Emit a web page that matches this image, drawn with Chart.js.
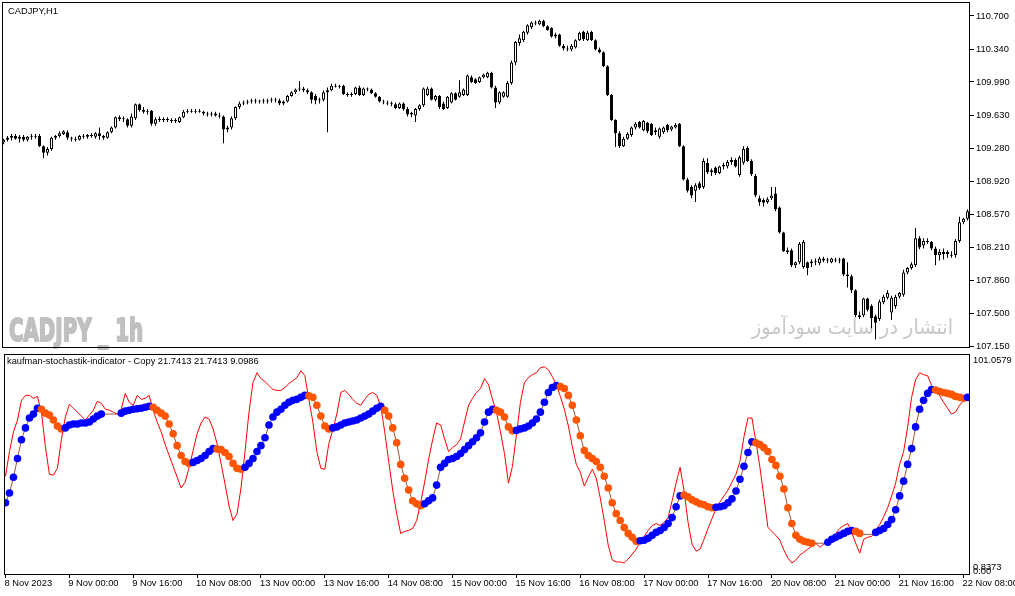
<!DOCTYPE html>
<html><head><meta charset="utf-8">
<script src="https://cdn.jsdelivr.net/npm/chart.js@4.4.1/dist/chart.umd.min.js"></script>
<style>
html,body{margin:0;padding:0;background:#fff;width:1015px;height:596px;overflow:hidden}
canvas{position:absolute;left:0}
#c1{top:0;width:1015px;height:350px}
#c2{top:350px;width:1015px;height:246px}
</style></head><body>
<canvas id="c1" width="1015" height="350"></canvas>
<canvas id="c2" width="1015" height="246"></canvas>
<script>
// ---- CADJPY H1 candles (8 Nov 2023 08:00 .. 22 Nov 2023 09:00) ----
const opens = [109.34,109.37,109.39,109.41,109.38,109.40,109.37,109.40,109.41,109.41,
109.30,109.23,109.27,109.39,109.41,109.43,109.45,109.39,109.38,109.37,
109.41,109.40,109.42,109.40,109.44,109.41,109.39,109.45,109.50,109.61,
109.59,109.59,109.52,109.60,109.75,109.69,109.67,109.68,109.54,109.59,
109.58,109.59,109.58,109.57,109.56,109.61,109.67,109.68,109.67,109.68,
109.67,109.65,109.64,109.65,109.63,109.62,109.48,109.50,109.60,109.72,
109.76,109.77,109.78,109.79,109.78,109.79,109.78,109.79,109.80,109.79,
109.76,109.78,109.84,109.88,109.91,109.92,109.90,109.88,109.84,109.79,
109.80,109.88,109.90,109.95,109.94,109.95,109.86,109.85,109.86,109.93,
109.85,109.92,109.91,109.87,109.83,109.78,109.77,109.76,109.75,109.71,
109.76,109.70,109.64,109.63,109.70,109.74,109.85,109.92,109.80,109.84,
109.76,109.71,109.77,109.87,109.83,109.85,109.85,110.04,110.02,109.99,
110.04,110.04,110.09,109.93,109.77,109.83,109.83,109.98,110.20,110.41,
110.44,110.52,110.58,110.63,110.61,110.65,110.59,110.57,110.48,110.50,
110.38,110.35,110.34,110.36,110.44,110.53,110.44,110.53,110.44,110.34,
110.31,110.16,109.85,109.58,109.44,109.30,109.38,109.42,109.50,109.56,
109.47,109.55,109.54,109.45,109.40,109.45,109.53,109.48,109.50,109.54,
109.30,108.94,108.86,108.82,108.90,108.86,109.12,109.02,109.07,109.01,
109.08,109.08,109.13,109.15,108.99,109.12,109.28,109.14,108.98,108.74,
108.72,108.70,108.74,108.79,108.64,108.37,108.18,108.18,108.02,108.05,
108.00,108.05,108.04,108.06,108.04,108.09,108.07,108.05,108.08,108.07,
108.09,107.92,107.90,107.75,107.48,107.48,107.66,107.58,107.47,107.44,
107.62,107.67,107.51,107.58,107.68,107.70,107.94,107.99,108.02,108.31,
108.23,108.28,108.27,108.20,108.13,108.16,108.14,108.12,108.13,108.28,
108.48,108.52];
const highs = [109.38,109.41,109.43,109.43,109.42,109.42,109.41,109.43,109.43,109.43,
109.31,109.29,109.40,109.42,109.46,109.47,109.47,109.40,109.40,109.42,
109.43,109.43,109.44,109.45,109.50,109.42,109.46,109.51,109.62,109.63,
109.62,109.60,109.65,109.76,109.76,109.72,109.70,109.69,109.61,109.62,
109.61,109.61,109.60,109.60,109.62,109.69,109.70,109.70,109.70,109.70,
109.68,109.67,109.67,109.67,109.66,109.63,109.52,109.62,109.73,109.78,
109.79,109.80,109.81,109.81,109.80,109.81,109.81,109.82,109.82,109.81,
109.79,109.85,109.89,109.92,110.00,109.94,109.92,109.89,109.86,109.82,
109.90,109.93,109.97,109.97,109.96,109.96,109.88,109.88,109.94,109.95,
109.93,109.93,109.92,109.88,109.84,109.80,109.79,109.78,109.77,109.77,
109.77,109.72,109.67,109.71,109.75,109.93,109.94,109.93,109.85,109.85,
109.78,109.84,109.88,109.88,110.01,109.92,110.07,110.06,110.03,110.05,
110.08,110.10,110.10,109.95,109.89,109.89,110.00,110.22,110.43,110.50,
110.54,110.61,110.64,110.65,110.66,110.66,110.60,110.58,110.52,110.51,
110.40,110.38,110.40,110.45,110.53,110.54,110.54,110.54,110.45,110.36,
110.32,110.17,109.86,109.59,109.46,109.40,109.45,109.51,109.56,109.57,
109.58,109.56,109.55,109.50,109.50,109.51,109.54,109.52,109.55,109.55,
109.31,108.96,108.88,108.90,108.92,109.17,109.17,109.06,109.08,109.09,
109.12,109.15,109.18,109.17,109.20,109.30,109.30,109.16,109.00,108.77,
108.74,108.75,108.86,108.86,108.65,108.38,108.21,108.20,108.06,108.27,
108.29,108.06,108.08,108.09,108.11,108.11,108.10,108.10,108.10,108.10,
108.10,108.05,107.92,107.76,107.52,107.67,107.67,107.60,107.49,107.65,
107.70,107.75,107.69,107.70,107.73,107.97,108.00,108.05,108.42,108.33,
108.31,108.31,108.28,108.22,108.19,108.20,108.18,108.17,108.30,108.54,
108.53,108.62];
const lows = [109.32,109.35,109.36,109.37,109.34,109.35,109.35,109.37,109.38,109.29,
109.17,109.20,109.25,109.37,109.39,109.42,109.37,109.35,109.35,109.36,
109.38,109.38,109.39,109.38,109.37,109.37,109.38,109.44,109.49,109.57,
109.56,109.50,109.50,109.58,109.67,109.65,109.64,109.52,109.52,109.56,
109.56,109.56,109.55,109.55,109.55,109.60,109.65,109.66,109.65,109.66,
109.63,109.62,109.62,109.62,109.60,109.33,109.45,109.48,109.58,109.70,
109.74,109.75,109.76,109.76,109.76,109.76,109.76,109.77,109.77,109.74,
109.74,109.77,109.83,109.86,109.89,109.88,109.86,109.76,109.75,109.76,
109.78,109.45,109.89,109.93,109.92,109.85,109.83,109.83,109.85,109.84,
109.84,109.89,109.86,109.82,109.77,109.75,109.74,109.73,109.70,109.70,
109.68,109.62,109.61,109.56,109.68,109.72,109.84,109.79,109.78,109.70,
109.69,109.70,109.76,109.79,109.82,109.84,109.84,109.98,109.97,109.98,
110.03,110.03,109.92,109.71,109.75,109.82,109.82,109.96,110.17,110.38,
110.42,110.50,110.56,110.60,110.60,110.58,110.54,110.47,110.46,110.37,
110.33,110.32,110.32,110.35,110.43,110.43,110.43,110.43,110.33,110.30,
110.15,109.84,109.57,109.29,109.28,109.29,109.37,109.40,109.48,109.49,
109.46,109.44,109.41,109.42,109.38,109.43,109.45,109.46,109.49,109.29,
108.93,108.80,108.74,108.70,108.83,108.84,109.00,108.98,108.99,109.00,
109.05,109.06,109.10,109.07,108.97,109.10,109.13,108.98,108.75,108.66,
108.65,108.68,108.72,108.60,108.36,108.16,108.14,108.00,107.99,108.03,
107.98,107.91,108.00,108.02,108.02,108.05,108.04,108.04,108.05,108.04,
107.90,107.78,107.72,107.46,107.44,107.46,107.52,107.34,107.22,107.42,
107.60,107.65,107.43,107.55,107.66,107.68,107.92,107.97,108.00,108.19,
108.20,108.25,108.18,108.02,108.07,108.08,108.10,108.10,108.10,108.26,
108.46,108.50];
const closes = [109.37,109.39,109.41,109.38,109.40,109.37,109.40,109.41,109.40,109.30,
109.23,109.27,109.39,109.41,109.44,109.46,109.39,109.38,109.37,109.41,
109.40,109.42,109.41,109.44,109.41,109.39,109.45,109.50,109.61,109.59,
109.60,109.52,109.62,109.75,109.69,109.67,109.68,109.54,109.59,109.58,
109.59,109.58,109.57,109.58,109.61,109.67,109.68,109.67,109.68,109.67,
109.65,109.64,109.65,109.63,109.62,109.48,109.50,109.60,109.72,109.76,
109.77,109.78,109.79,109.78,109.79,109.78,109.79,109.80,109.79,109.76,
109.78,109.84,109.88,109.91,109.92,109.90,109.88,109.80,109.79,109.80,
109.88,109.90,109.95,109.94,109.95,109.86,109.85,109.86,109.93,109.85,
109.92,109.91,109.87,109.83,109.78,109.77,109.76,109.75,109.71,109.76,
109.70,109.64,109.66,109.70,109.74,109.92,109.92,109.80,109.84,109.72,
109.70,109.83,109.87,109.80,109.88,109.91,110.06,109.99,109.98,110.04,
110.07,110.09,109.93,109.77,109.88,109.88,109.98,110.20,110.42,110.46,
110.53,110.60,110.63,110.62,110.65,110.59,110.55,110.48,110.50,110.38,
110.35,110.34,110.38,110.44,110.52,110.45,110.52,110.44,110.34,110.31,
110.16,109.85,109.58,109.44,109.30,109.38,109.43,109.50,109.54,109.50,
109.57,109.46,109.42,109.47,109.49,109.50,109.47,109.51,109.53,109.30,
108.94,108.82,108.77,108.88,108.85,109.14,109.02,109.04,109.01,109.08,
109.10,109.13,109.15,109.08,109.18,109.27,109.14,109.00,108.77,108.70,
108.69,108.73,108.77,108.62,108.37,108.17,108.16,108.02,108.05,108.25,
108.27,107.99,108.06,108.05,108.09,108.07,108.08,108.09,108.07,108.08,
107.92,107.90,107.75,107.48,107.46,107.66,107.54,107.45,107.40,107.63,
107.68,107.72,107.67,107.68,107.72,107.94,107.99,108.03,108.31,108.21,
108.28,108.27,108.20,108.13,108.16,108.14,108.16,108.13,108.28,108.48,
108.52,108.60];
const priceTicks = [107.150,107.500,107.860,108.210,108.570,108.920,109.280,109.630,109.990,110.340,110.700];

// ---- Kaufman stochastic indicator ----
const signalValues = [33.57,38.04,45.19,53.68,62.17,67.54,72.01,73.80,76.48,76.03,
74.24,73.35,71.11,68.43,67.09,67.54,68.88,69.33,69.33,69.77,
69.77,70.22,71.56,72.90,73.80,73.80,73.80,73.80,73.80,74.24,
75.14,75.58,76.03,76.25,76.48,76.93,77.37,76.93,75.58,74.24,
72.90,69.33,64.86,59.49,55.02,52.34,51.45,51.90,52.79,53.68,
55.02,56.81,58.15,57.93,57.70,56.36,54.58,51.45,49.21,48.76,
49.66,51.45,53.68,56.81,59.49,63.07,68.88,72.46,74.69,76.03,
77.82,79.16,80.05,80.50,81.40,82.29,82.07,81.40,77.82,72.90,
68.43,67.09,67.54,67.99,68.88,69.77,70.22,70.67,71.11,72.01,
72.90,73.80,75.14,76.48,77.37,75.58,72.90,67.54,60.83,51.00,
44.74,39.38,34.46,33.12,32.23,33.12,34.46,35.80,41.61,49.66,
51.45,53.23,53.68,54.58,55.92,57.70,59.49,61.28,63.07,65.30,
70.22,74.69,76.03,75.58,74.69,72.46,67.99,66.20,66.42,67.09,
67.54,68.43,69.77,71.56,74.69,79.16,83.63,85.87,86.76,86.31,
85.42,82.29,77.82,71.11,63.96,57.26,55.02,53.68,52.34,49.66,
45.63,40.27,33.57,28.65,25.52,22.39,19.71,17.92,16.13,16.35,
16.58,17.47,18.81,20.15,21.05,22.39,24.18,26.86,31.78,36.70,
37.14,36.25,34.91,34.02,33.12,32.67,31.78,31.33,31.55,31.78,
32.23,33.57,35.36,38.93,44.29,50.11,56.36,61.28,60.83,59.94,
58.60,56.81,53.23,50.55,45.63,39.82,31.33,24.18,18.81,17.03,
16.13,15.68,15.24,15.24,15.24,15.24,15.68,17.03,17.92,18.81,
19.71,20.60,21.05,20.60,19.71,19.26,19.26,19.26,20.15,21.05,
21.94,23.73,25.97,30.44,36.70,43.40,51.00,58.15,67.99,76.03,
80.05,83.18,84.97,84.75,84.08,83.63,83.18,82.74,81.84,81.39,
80.95,81.40];
// dot colour runs: B = rising (blue), O = falling (orange), - = no dot
const dotRuns = [['B',9],['O',6],['B',10],['-',4],['B',8],['O',10],['B',6],['O',7],['B',16],['O',6],
['B',13],['O',10],['B',18],['O',5],['B',11],['O',20],['B',11],['O',8],['B',10],['O',15],
['-',3],['B',7],['O',2],['-',3],['B',15],['O',8],['B',1]];
const fastValues = [45.63,56.81,65.75,71.11,80.05,82.29,82.29,80.95,81.84,74.69,
59.05,46.53,46.08,49.21,62.17,72.46,78.27,76.48,74.69,72.90,
71.11,73.35,75.58,79.61,78.71,76.03,75.58,74.69,73.80,76.03,
83.18,79.16,77.82,82.29,80.50,80.95,82.29,75.58,70.22,65.75,
59.94,55.02,50.11,45.19,40.27,42.95,49.66,57.26,64.86,69.77,
72.46,71.56,67.09,60.39,51.45,42.06,32.23,25.52,28.65,40.27,
56.81,74.69,88.10,92.57,89.89,88.55,86.76,84.97,84.52,84.52,
85.87,87.65,88.99,90.34,93.46,91.23,80.50,70.22,56.81,49.21,
48.76,60.39,66.64,73.80,83.63,84.52,82.74,80.50,78.71,77.82,
80.50,82.74,83.63,82.29,77.37,65.75,52.34,39.38,28.65,19.71,
20.60,21.05,21.94,25.52,33.57,42.95,53.23,62.17,69.77,68.88,
62.62,56.81,58.60,59.94,62.62,70.22,77.82,80.95,83.63,85.42,
89.89,87.21,80.50,74.69,65.75,55.92,42.51,50.11,64.41,79.16,
88.10,90.34,91.68,92.57,94.80,95.25,93.91,90.78,87.21,81.84,
76.03,68.43,59.05,51.00,47.42,41.16,45.19,48.76,44.74,35.80,
25.52,14.34,7.64,6.75,6.75,6.30,8.09,10.32,12.56,15.68,
18.36,21.05,23.29,24.18,23.29,24.63,26.86,34.46,42.51,49.66,
38.93,24.63,14.79,11.66,12.56,17.03,21.94,26.41,30.89,34.02,
36.70,39.38,42.95,46.53,52.34,63.52,72.01,72.01,61.28,49.66,
36.25,22.39,20.60,18.81,16.58,12.11,8.53,6.30,7.64,9.87,
11.21,12.56,13.89,15.24,13.45,14.79,16.13,17.92,19.71,21.94,
23.29,24.18,20.15,15.24,10.77,17.03,17.92,18.36,21.05,23.73,
27.31,31.33,36.70,42.51,51.00,56.81,67.99,81.40,89.44,92.57,
91.68,91.23,86.76,84.08,82.29,79.16,76.48,73.80,74.69,77.82,
80.05,81.84];
const indTickValues = [2.63, 4.42, 97.93];
const indTickLabels = ['0.00', '0.8373', '101.0579'];

// ---- time axis ----
const timeTickBars = [0,16,32,48,64,80,96,112,128,144,160,176,192,208,224,240];
const timeLabels = ['8 Nov 2023','9 Nov 00:00','9 Nov 16:00','10 Nov 08:00','13 Nov 00:00','13 Nov 16:00',
'14 Nov 08:00','15 Nov 00:00','15 Nov 16:00','16 Nov 08:00','17 Nov 00:00','17 Nov 16:00',
'20 Nov 08:00','21 Nov 00:00','21 Nov 16:00','22 Nov 08:00'];

const symbolTitle = 'CADJPY,H1';
const watermarkText = 'CADJPY _ 1h';
const siteText = 'انتشار در سایت سودآموز';
const indicatorTitle = 'kaufman-stochastik-indicator - Copy 21.7413 21.7413 9.0986';

// ---------------------------------------------------------------
const FONT = '"Liberation Sans", Arial, sans-serif';
const FS = 9.3;
const X_MIN = -0.375, X_MAX = 241.625;
const idx = opens.map((_, i) => i);
const dotColorCodes = [];
dotRuns.forEach(([c, n]) => { for (let k = 0; k < n; k++) dotColorCodes.push(c); });
const COLOR_MAP = { B: '#0000ff', O: '#ff5500', '-': 'rgba(0,0,0,0)' };

const framePlugin = {
  id: 'frame',
  afterDraw(chart) {
    const { ctx, chartArea: a } = chart;
    ctx.save();
    ctx.strokeStyle = '#000';
    ctx.lineWidth = 1;
    ctx.strokeRect(a.left + 0.5, a.top + 0.5, a.right - a.left - 1, a.bottom - a.top - 1);
    ctx.restore();
  }
};

function fitText(ctx, text, x, y, width, font, color, rtl, stroke) {
  ctx.save();
  ctx.font = font;
  ctx.fillStyle = color;
  ctx.strokeStyle = color;
  ctx.lineJoin = 'round';
  ctx.textBaseline = 'alphabetic';
  ctx.textAlign = 'left';
  if (rtl) ctx.direction = 'rtl';
  const w = ctx.measureText(text).width;
  ctx.translate(x, y);
  ctx.scale(width / w, 1);
  const tx = rtl ? w : 0;
  if (rtl) ctx.textAlign = 'right';
  if (stroke) { ctx.lineWidth = stroke; ctx.strokeText(text, tx, 0); }
  ctx.fillText(text, tx, 0);
  ctx.restore();
}

const topText = {
  id: 'topText',
  beforeDatasetsDraw(chart) {
    const ctx = chart.ctx;
    fitText(ctx, watermarkText, 9, 341, 134, 'bold 32px "DejaVu Sans", sans-serif', '#c0c0c0', false, 2.2);
    fitText(ctx, siteText, 752, 334, 201, '21px "DejaVu Sans", sans-serif', '#c8c8c8', true, 0);
    ctx.save();
    ctx.font = FS + 'px ' + FONT;
    ctx.fillStyle = '#000';
    ctx.textBaseline = 'middle';
    ctx.fillText(symbolTitle, 8, 11);
    ctx.restore();
  }
};
const bottomText = {
  id: 'bottomText',
  afterDraw(chart) {
    const ctx = chart.ctx;
    ctx.save();
    ctx.font = FS + 'px ' + FONT;
    ctx.fillStyle = '#000';
    ctx.textBaseline = 'middle';
    ctx.fillText(indicatorTitle, 7, 11);
    ctx.restore();
  }
};

const tickFont = { family: FONT, size: FS };

new Chart(document.getElementById('c1'), {
  type: 'bar',
  data: {
    datasets: [
      {
        data: idx.map(i => ({ x: i, y: [opens[i], closes[i]] })),
        backgroundColor: idx.map(i => closes[i] > opens[i] ? '#ffffff' : '#000000'),
        borderColor: '#000', borderWidth: 1, borderSkipped: false,
        barThickness: 3, maxBarThickness: 3, minBarLength: 1, inflateAmount: 0, grouped: false
      },
      {
        data: idx.map(i => ({ x: i, y: [lows[i], highs[i]] })),
        backgroundColor: '#000', borderWidth: 0,
        barThickness: 1, maxBarThickness: 1, minBarLength: 1, inflateAmount: 0, grouped: false
      }
    ]
  },
  options: {
    responsive: false, animation: false, events: [],
    layout: { padding: { left: 2, top: 2, right: 0, bottom: 2 } },
    plugins: { legend: { display: false }, tooltip: { enabled: false } },
    scales: {
      x: { type: 'linear', min: X_MIN, max: X_MAX, offset: false, grid: { offset: false }, display: false },
      y: {
        position: 'right', min: 107.1285, max: 110.8506,
        afterBuildTicks: s => { s.ticks = priceTicks.map(v => ({ value: v })); },
        afterFit: s => { s.width = 45; s.paddingTop = 0; s.paddingBottom = 0; },
        grid: { drawOnChartArea: false, drawTicks: true, tickLength: 4, color: '#000', tickColor: '#000' },
        border: { display: false },
        ticks: { color: '#000', font: tickFont, padding: 2, callback: v => Number(v).toFixed(3) }
      }
    }
  },
  plugins: [topText, framePlugin]
});

new Chart(document.getElementById('c2'), {
  type: 'line',
  data: {
    datasets: [
      {
        data: idx.map(i => ({ x: i, y: dotColorCodes[i] === '-' ? null : signalValues[i] })),
        showLine: false, pointRadius: 3.8, pointBorderWidth: 0,
        pointBackgroundColor: idx.map(i => COLOR_MAP[dotColorCodes[i]] || '#0000ff')
      },
      {
        data: idx.map(i => ({ x: i, y: signalValues[i] })),
        borderColor: '#a0522d', borderWidth: 1, pointRadius: 0, tension: 0
      },
      {
        data: idx.map(i => ({ x: i, y: fastValues[i] })),
        borderColor: '#ff0000', borderWidth: 1, pointRadius: 0, tension: 0
      }
    ]
  },
  options: {
    responsive: false, animation: false, events: [],
    layout: { padding: { left: 2, top: 1, right: 0, bottom: 0 } },
    plugins: { legend: { display: false }, tooltip: { enabled: false } },
    scales: {
      x: {
        type: 'linear', min: X_MIN, max: X_MAX, offset: false,
        afterBuildTicks: s => { s.ticks = timeTickBars.map(v => ({ value: v })); },
        afterFit: s => { s.height = 21; s.paddingLeft = 0; s.paddingRight = 0; },
        grid: { drawOnChartArea: false, drawTicks: true, tickLength: 3, color: '#000', tickColor: '#000' },
        border: { display: false },
        ticks: {
          autoSkip: false, maxRotation: 0, minRotation: 0, align: 'start', padding: 0, labelOffset: -1,
          color: '#000', font: tickFont,
          callback: (v, i) => timeLabels[i]
        }
      },
      y: {
        position: 'right', min: 0.8373, max: 101.0579,
        afterBuildTicks: s => { s.ticks = indTickValues.map(v => ({ value: v })); },
        afterFit: s => { s.width = 45; s.paddingTop = 0; s.paddingBottom = 0; },
        grid: { display: false, drawTicks: false, tickLength: 0 },
        border: { display: false },
        ticks: { color: '#000', font: tickFont, padding: 3, callback: (v, i) => indTickLabels[i] }
      }
    }
  },
  plugins: [bottomText, framePlugin]
});
</script>
</body></html>
